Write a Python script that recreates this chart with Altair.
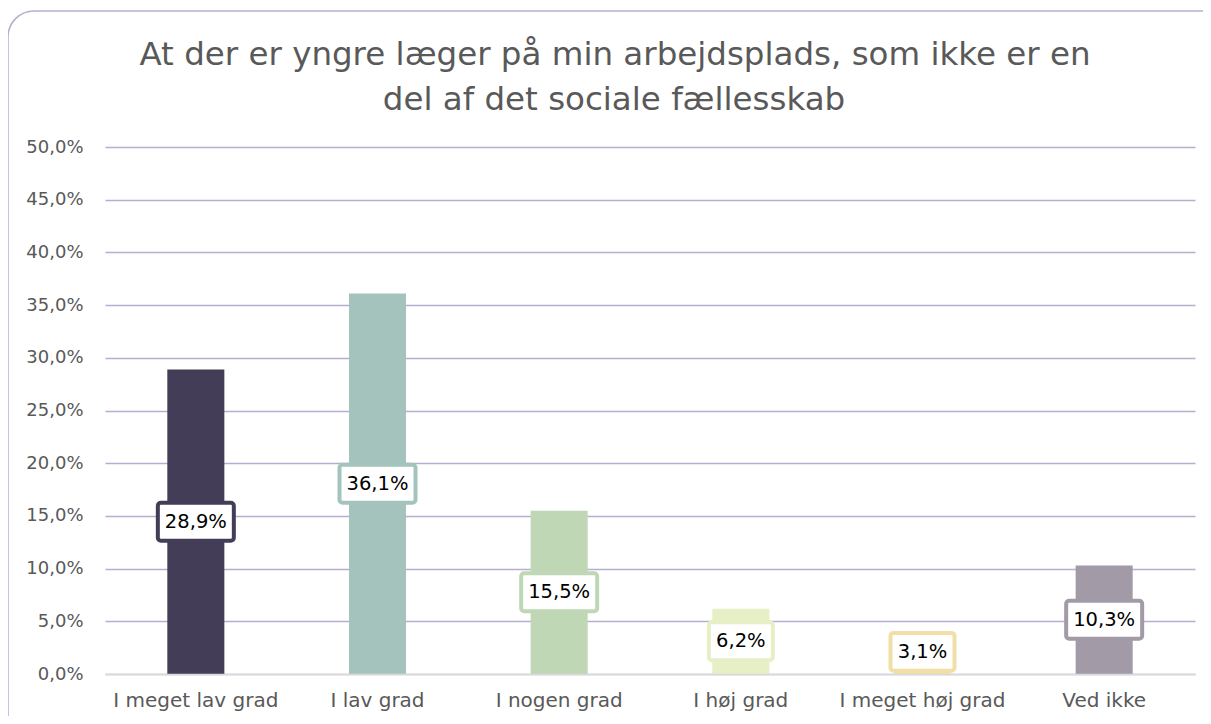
import altair as alt
import pandas as pd

categories = ["I meget lav grad", "I lav grad", "I nogen grad", "I høj grad", "I meget høj grad", "Ved ikke"]
values = [28.9, 36.1, 15.5, 6.2, 3.1, 10.3]
colors = ["#433d58", "#a4c3bc", "#bfd7b5", "#e6efc6", "#f2dfa7", "#a39aa8"]
labels = ["28,9%", "36,1%", "15,5%", "6,2%", "3,1%", "10,3%"]
title_lines = ["At der er yngre læger på min arbejdsplads, som ikke er en", "del af det sociale fællesskab"]

df = pd.DataFrame({"cat": categories, "val": values, "label": labels})

FONT = "DejaVu Sans"
W, H = 1090, 527

xenc = alt.X("cat:N", sort=categories, title=None,
             scale=alt.Scale(paddingInner=0.686, paddingOuter=0.343),
             axis=alt.Axis(labelAngle=0, labelFontSize=20, labelColor="#595959", labelFont=FONT,
                           ticks=False, domainColor="#d9d9d9", domainWidth=1.5, labelPadding=16,
                           zindex=1))
color = alt.Color("cat:N", sort=categories, scale=alt.Scale(domain=categories, range=colors), legend=None)

one = pd.DataFrame({"a": [0]})
frame = alt.Chart(one).mark_rect(
    fill="white", fillOpacity=0, stroke="#b3b0d2", strokeWidth=1.5, cornerRadius=26
).encode(x=alt.value(-97), x2=alt.value(1130), y=alt.value(-136), y2=alt.value(620))

title1 = alt.Chart(one).mark_text(fontSize=32.5, font=FONT, color="#595959", baseline="middle", align="center").encode(
    x=alt.value(510), y=alt.value(-92), text=alt.value(title_lines[0]))
title2 = alt.Chart(one).mark_text(fontSize=32.5, font=FONT, color="#595959", baseline="middle", align="center").encode(
    x=alt.value(509), y=alt.value(-47), text=alt.value(title_lines[1]))

bars = alt.Chart(df).mark_bar().encode(
    x=xenc,
    y=alt.Y("val:Q", title=None, scale=alt.Scale(domain=[0, 50]),
            axis=alt.Axis(values=[0, 5, 10, 15, 20, 25, 30, 35, 40, 45, 50],
                          labelExpr="replace(format(datum.value, '.1f'), '.', ',') + '%'",
                          labelFontSize=18, labelColor="#595959", labelFont=FONT, labelPadding=22,
                          ticks=False, domain=False, gridColor="#b3afcf", gridWidth=1.5)),
    color=color,
)

base = alt.Chart(df).transform_calculate(
    mid="max(datum.val / 2, 2.1)",
    lo="max(datum.val / 2, 2.1) - 1.8",
    hi="max(datum.val / 2, 2.1) + 1.8",
    bw="length(datum.label) * 12 + 16",
)

boxes = base.mark_bar(fill="white", strokeWidth=4, cornerRadius=3).encode(
    x=alt.X("cat:N", sort=categories),
    y="lo:Q", y2="hi:Q",
    stroke=alt.Stroke("cat:N", sort=categories, scale=alt.Scale(domain=categories, range=colors), legend=None),
    size=alt.Size("bw:Q", scale=None, legend=None),
)

texts = base.mark_text(fontSize=19.5, font=FONT, color="black", baseline="middle", align="center").encode(
    x=alt.X("cat:N", sort=categories), y="mid:Q", text="label:N"
)

chart = alt.layer(frame, title1, title2, bars, boxes, texts).properties(
    width=W, height=H,
    autosize=alt.AutoSizeParams(type="none"),
    padding={"left": 97, "top": 139, "right": 8, "bottom": 42},
).configure_view(stroke=None)

chart.save("out.html", embed_options={"renderer": "svg", "actions": False})
